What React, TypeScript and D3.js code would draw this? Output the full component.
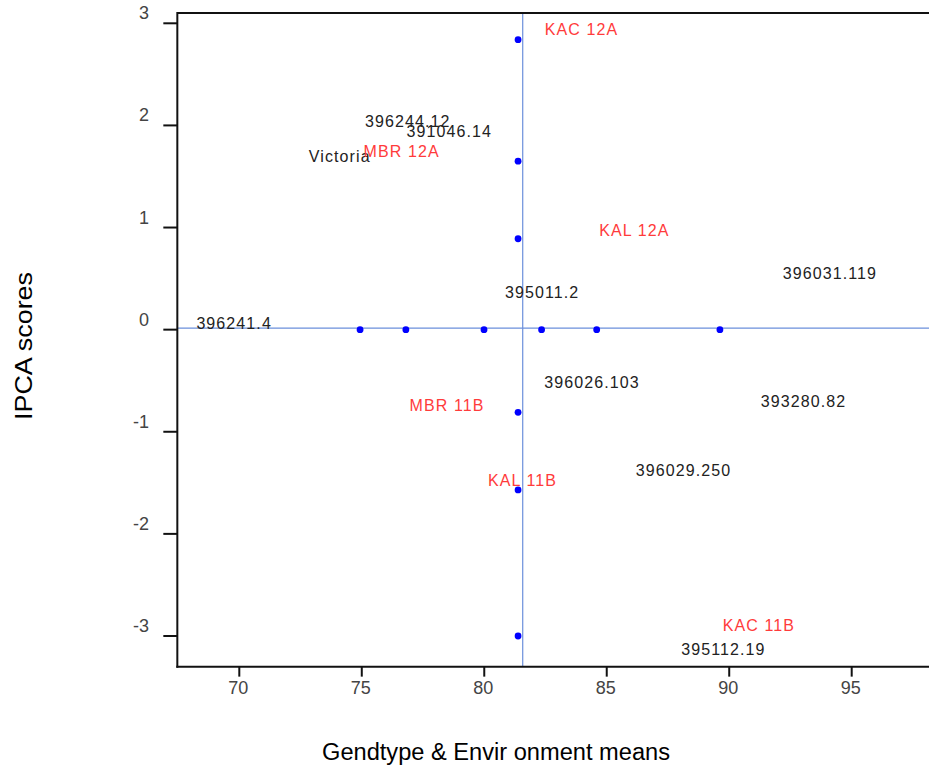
import React from 'react';
import * as d3 from 'd3';

// environments (red labels), IPCA dots on the vertical mean line
const envNames = ['KAC 12A', 'MBR 12A', 'KAL 12A', 'MBR 11B', 'KAL 11B', 'KAC 11B'];
const envLabelX = [83.97, 76.63, 86.13, 78.48, 81.56, 91.21];
const envLabelY = [2.935, 1.743, 0.97, -0.738, -1.482, -2.902];
const envIpca = [2.84, 1.65, 0.89, -0.81, -1.57, -3.0];

// dots sitting on the zero line
const meanDots = [74.93, 76.8, 79.99, 82.34, 84.59, 89.62];

// genotypes (black labels)
const genoNames = [
  '396244.12', '391046.14', 'Victoria', '396031.119', '395011.2', '396241.4',
  '396026.103', '393280.82', '396029.250', '395112.19',
];
const genoX = [76.88, 78.57, 74.1, 94.11, 82.36, 69.79, 84.4, 93.03, 88.13, 89.76];
const genoY = [2.037, 1.939, 1.691, 0.546, 0.362, 0.063, -0.522, -0.7, -1.384, -3.13];

const grandMean = 81.57;
const dotMeanX = 81.38;
const xTicks = [70, 75, 80, 85, 90, 95];
const yTicks = [-3, -2, -1, 0, 1, 2, 3];

const W = 929;
const H = 770;

export default function App() {
  const x = d3.scaleLinear().domain([70, 95]).range([239.3, 851.7]);
  const y = d3.scaleLinear().domain([-3, 3]).range([636, 23.3]);

  const left = x(67.47);
  const right = W;
  const top = y(3.1);
  const bottom = y(-3.3);

  const font = 'Liberation Sans, Arial, sans-serif';

  return (
    <svg width={W} height={H} style={{ position: 'absolute', left: 0, top: 0, background: '#fff' }} fontFamily={font}>
      {/* reference lines */}
      <line x1={left} x2={right} y1={y(0.014)} y2={y(0.014)} stroke="#6b8fdb" strokeWidth={1.2} />
      <line x1={x(grandMean)} x2={x(grandMean)} y1={top} y2={bottom} stroke="#6b8fdb" strokeWidth={1.2} />

      {/* frame */}
      <line x1={left} x2={right} y1={top} y2={top} stroke="#111" strokeWidth={2} />
      <line x1={left} x2={left} y1={top - 1} y2={bottom + 1} stroke="#111" strokeWidth={2} />
      <line x1={left - 1} x2={right} y1={bottom} y2={bottom} stroke="#111" strokeWidth={2} />

      {/* y ticks */}
      {yTicks.map((t) => (
        <g key={'y' + t}>
          <line x1={left - 14} x2={left} y1={y(t)} y2={y(t)} stroke="#111" strokeWidth={2} />
          <text x={149} y={y(t) - 10} textAnchor="end" dominantBaseline="central" fontSize={18} fill="#444">
            {t}
          </text>
        </g>
      ))}

      {/* x ticks */}
      {xTicks.map((t) => (
        <g key={'x' + t}>
          <line x1={x(t)} x2={x(t)} y1={bottom} y2={bottom + 10} stroke="#111" strokeWidth={2} />
          <text x={x(t) - 1} y={bottom + 21} textAnchor="middle" dominantBaseline="central" fontSize={18} fill="#444">
            {t}
          </text>
        </g>
      ))}

      {/* dots */}
      {envIpca.map((v, i) => (
        <circle key={'e' + i} cx={x(dotMeanX)} cy={y(v)} r={3.4} fill="#0000ff" />
      ))}
      {meanDots.map((v, i) => (
        <circle key={'m' + i} cx={x(v)} cy={y(0)} r={3.4} fill="#0000ff" />
      ))}

      {/* labels */}
      {genoNames.map((n, i) => (
        <text key={n} x={x(genoX[i])} y={y(genoY[i])} textAnchor="middle" dominantBaseline="central"
          fontSize={16} letterSpacing={1.1} fill="#222">
          {n}
        </text>
      ))}
      {envNames.map((n, i) => (
        <text key={n} x={x(envLabelX[i])} y={y(envLabelY[i])} textAnchor="middle" dominantBaseline="central"
          fontSize={16} letterSpacing={1.1} fill="#ff3b3b">
          {n}
        </text>
      ))}

      {/* axis titles */}
      <text x={496} y={752} textAnchor="middle" dominantBaseline="central" fontSize={23} fill="#000"
        textLength={348} lengthAdjust="spacingAndGlyphs">
        Gendtype &amp; Envir onment means
      </text>
      <text transform="translate(24,346) rotate(-90)" textAnchor="middle" dominantBaseline="central" fontSize={23}
        fill="#000" textLength={148} lengthAdjust="spacingAndGlyphs">
        IPCA scores
      </text>
    </svg>
  );
}
